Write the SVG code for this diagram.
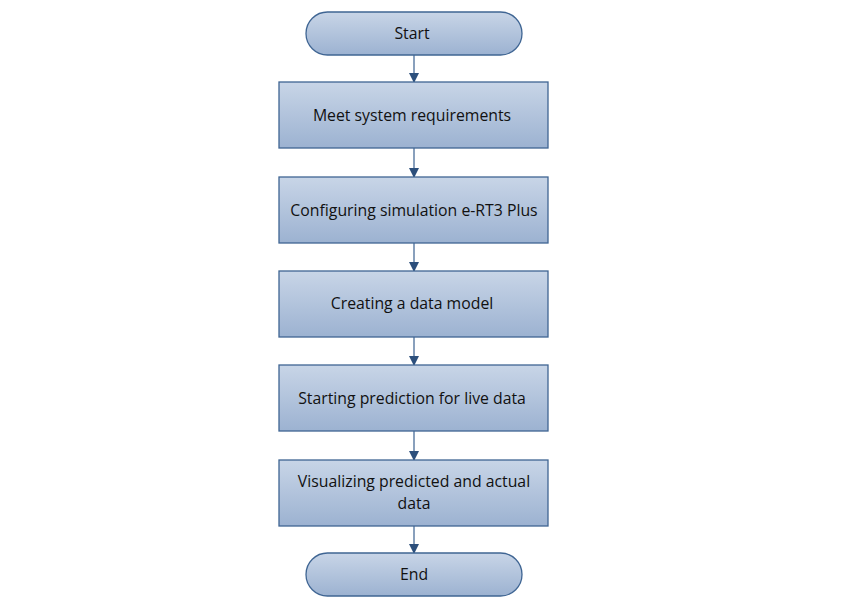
<svg xmlns="http://www.w3.org/2000/svg" width="846" height="608" viewBox="0 0 846 608">
<defs>
<linearGradient id="g" x1="0" y1="0" x2="0" y2="1">
<stop offset="0" stop-color="#c8d5e7"/>
<stop offset="1" stop-color="#9cb2d1"/>
</linearGradient>
<marker id="ah" markerWidth="10" markerHeight="10" refX="9" refY="5" orient="auto" markerUnits="userSpaceOnUse">
<path d="M0,0 L10,5 L0,10 z" fill="#2c4f7c"/>
</marker>
<style>
.n{fill:url(#g);stroke:#3f6593;stroke-width:1.3}
.t{font-family:"Open Sans","Noto Sans",sans-serif;font-size:15.8px;fill:#111;text-anchor:middle}
.c{stroke:#4a6d99;stroke-width:1.3;fill:none;marker-end:url(#ah)}
</style>
</defs>
<rect width="846" height="608" fill="#fff"/>
<g id="connectors">
<line class="c" x1="414" y1="55" x2="414" y2="82"/>
<line class="c" x1="414" y1="148" x2="414" y2="177"/>
<line class="c" x1="414" y1="243" x2="414" y2="271"/>
<line class="c" x1="414" y1="337" x2="414" y2="365"/>
<line class="c" x1="414" y1="431" x2="414" y2="460"/>
<line class="c" x1="414" y1="526" x2="414" y2="553"/>
</g>
<g id="start">
<rect class="n" x="306" y="12" width="216" height="43" rx="21.5"/>
<text class="t" x="412" y="39">Start</text>
</g>
<g id="n1">
<rect class="n" x="279" y="82" width="269" height="66"/>
<text class="t" x="412" y="121">Meet system requirements</text>
</g>
<g id="n2">
<rect class="n" x="279" y="177" width="269" height="66"/>
<text class="t" x="414" y="216">Configuring simulation e-RT3 Plus</text>
</g>
<g id="n3">
<rect class="n" x="279" y="271" width="269" height="66"/>
<text class="t" x="412" y="309">Creating a data model</text>
</g>
<g id="n4">
<rect class="n" x="279" y="365" width="269" height="66"/>
<text class="t" x="412" y="404">Starting prediction for live data</text>
</g>
<g id="n5">
<rect class="n" x="279" y="460" width="269" height="66"/>
<text class="t" x="414" y="487">Visualizing predicted and actual</text>
<text class="t" x="414" y="509">data</text>
</g>
<g id="end">
<rect class="n" x="306" y="553" width="216" height="43" rx="21.5"/>
<text class="t" x="414" y="580">End</text>
</g>
</svg>
